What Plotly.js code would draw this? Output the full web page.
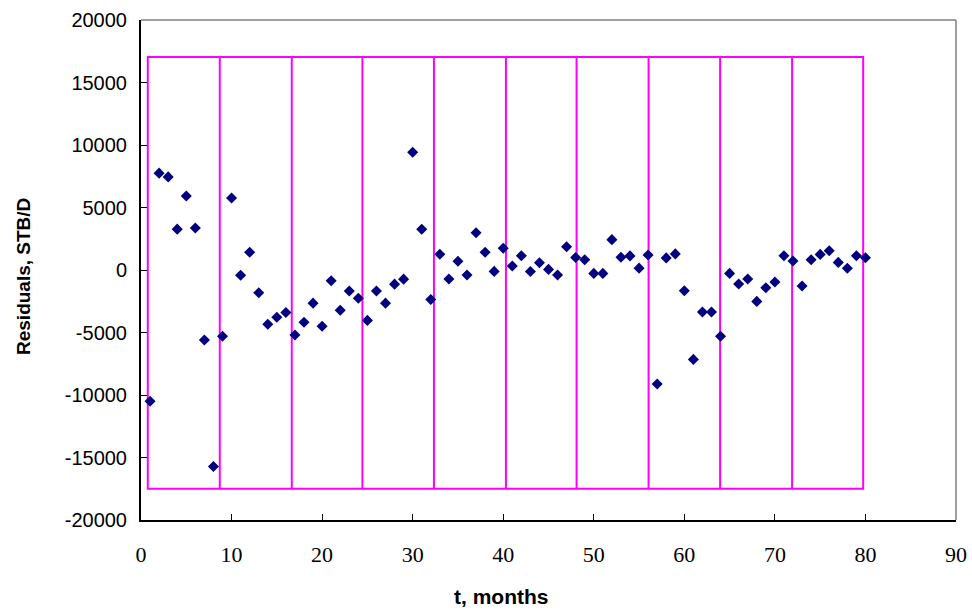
<!DOCTYPE html>
<html>
<head>
<meta charset="utf-8">
<script src="https://cdn.plot.ly/plotly-3.0.1.min.js"></script>
<style>
  html, body { margin: 0; padding: 0; background: #ffffff; }
  #chart { width: 972px; height: 612px; }
</style>
</head>
<body>
<div id="chart"></div>
<script>
// Monthly residuals of the production fit, STB/D
const months = [];
for (let m = 1; m <= 80; m++) months.push(m);

const residuals = [
  -10500, 7750, 7450, 3270, 5920, 3360, -5600, -15720, -5300, 5760,
  -420, 1420, -1820, -4340, -3780, -3400, -5200, -4180, -2650, -4500,
  -860, -3220, -1680, -2260, -4030, -1680, -2650, -1130, -730, 9420,
  3260, -2360, 1260, -720, 700, -400, 2980, 1420, -110, 1740,
  320, 1140, -120, 580, 50, -400, 1860, 1000, 820, -270,
  -270, 2430, 1020, 1130, 150, 1200, -9120, 970, 1290, -1660,
  -7150, -3360, -3360, -5300, -270, -1120, -720, -2510, -1420, -960,
  1140, 720, -1280, 820, 1250, 1540, 610, 140, 1140, 980
];

// Boundaries of the fitting windows (months) and the band they span (STB/D)
const windowEdges = [0.75, 8.7, 16.65, 24.45, 32.35, 40.3, 48.1, 56.05, 63.95, 71.9, 79.75];
const bandTop = 17050;
const bandBottom = -17500;

const xTicks = [0, 10, 20, 30, 40, 50, 60, 70, 80, 90];
const yTicks = [-20000, -15000, -10000, -5000, 0, 5000, 10000, 15000, 20000];

const magenta = '#FF00FF';
const shapes = [];
// outer box of the windows
shapes.push({
  type: 'rect', xref: 'x', yref: 'y',
  x0: windowEdges[0], x1: windowEdges[windowEdges.length - 1],
  y0: bandBottom, y1: bandTop,
  line: { color: magenta, width: 2 }, layer: 'below'
});
// inner dividers
for (let i = 1; i < windowEdges.length - 1; i++) {
  shapes.push({
    type: 'line', xref: 'x', yref: 'y',
    x0: windowEdges[i], x1: windowEdges[i],
    y0: bandBottom, y1: bandTop,
    line: { color: magenta, width: 2 }, layer: 'below'
  });
}
// plot-area frame: gray on top and right, black on left and bottom
shapes.push({ type: 'line', xref: 'paper', yref: 'paper', x0: 0, x1: 1, y0: 1, y1: 1,
  line: { color: '#808080', width: 1.5 } });
shapes.push({ type: 'line', xref: 'paper', yref: 'paper', x0: 1, x1: 1, y0: 0, y1: 1,
  line: { color: '#808080', width: 1.5 } });

const trace = {
  x: months,
  y: residuals,
  type: 'scatter',
  mode: 'markers',
  marker: { symbol: 'diamond', size: 8.5, color: '#000080', line: { width: 0 } },
  hoverinfo: 'x+y'
};

const layout = {
  width: 972,
  height: 612,
  margin: { l: 140.5, r: 15.5, t: 20, b: 92 },
  paper_bgcolor: '#ffffff',
  plot_bgcolor: '#ffffff',
  showlegend: false,
  xaxis: {
    range: [0, 90],
    tickvals: xTicks,
    ticktext: xTicks.map(String),
    ticks: 'inside',
    ticklen: 6,
    tickcolor: '#000000',
    tickwidth: 1,
    showgrid: false,
    zeroline: false,
    showline: true,
    linecolor: '#000000',
    linewidth: 2,
    ticklabelstandoff: 14,
    tickfont: { family: '"Liberation Serif", "Times New Roman", serif', size: 22, color: '#000000' },
    fixedrange: true
  },
  yaxis: {
    range: [-20000, 20000],
    tickvals: yTicks,
    ticktext: yTicks.map(String),
    ticks: 'inside',
    ticklen: 6,
    tickcolor: '#000000',
    tickwidth: 1,
    showgrid: false,
    zeroline: false,
    showline: true,
    linecolor: '#000000',
    linewidth: 2,
    ticklabelstandoff: 8,
    tickfont: { family: '"Liberation Sans", Arial, sans-serif', size: 20, color: '#000000' },
    fixedrange: true
  },
  shapes: shapes,
  annotations: [
    {
      text: '<b>t, months</b>', xref: 'paper', yref: 'paper',
      x: 0.442, y: 0, yshift: -76, xanchor: 'center', yanchor: 'middle',
      showarrow: false,
      font: { family: '"Liberation Sans", Arial, sans-serif', size: 21, color: '#000000' }
    },
    {
      text: '<b>Residuals, STB/D</b>', xref: 'paper', yref: 'paper',
      x: 0, xshift: -118, y: 0.486, xanchor: 'center', yanchor: 'middle',
      textangle: -90, showarrow: false,
      font: { family: '"Liberation Sans", Arial, sans-serif', size: 19, color: '#000000' }
    }
  ]
};

Plotly.newPlot('chart', [trace], layout, { displayModeBar: false, staticPlot: true });
</script>
</body>
</html>
